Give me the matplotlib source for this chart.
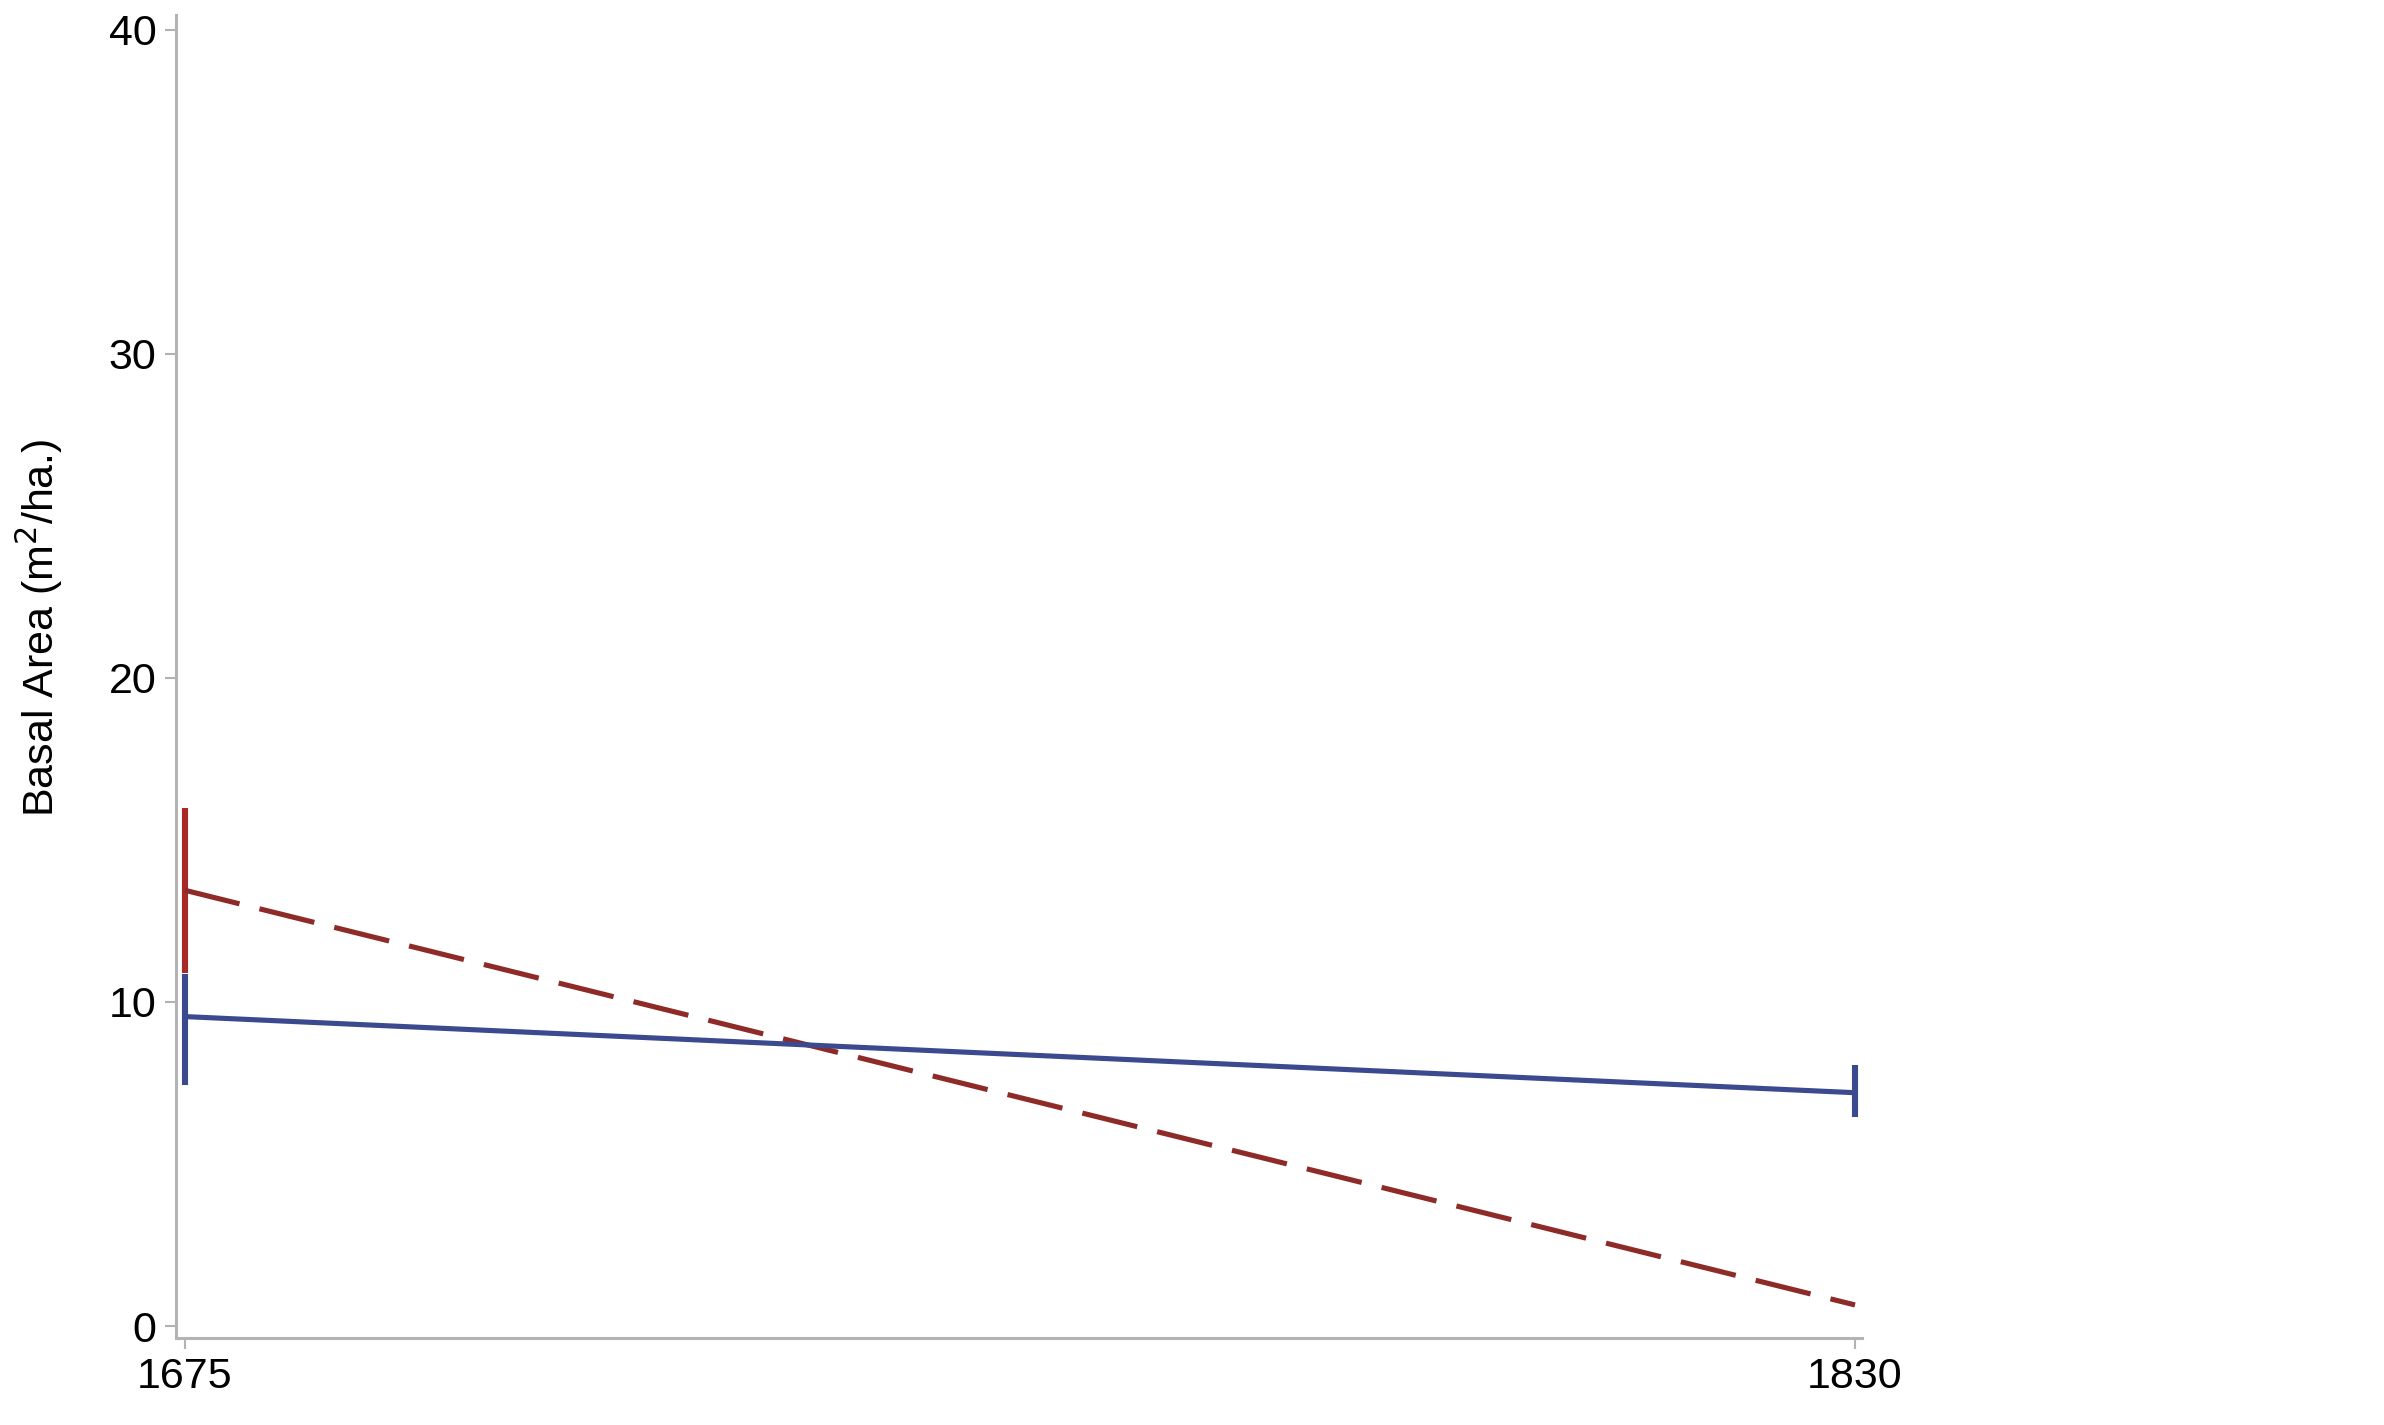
import matplotlib.pyplot as plt
import numpy as np

plt.rcParams['font.family'] = ['Liberation Sans', 'DejaVu Sans']

# data
years = [1675, 1830]
blue_mean = [9.55, 7.2]
blue_low = [7.45, 6.45]
blue_high = [10.85, 8.05]
red_mean = [13.45, 0.65]
red_low = [10.9, 0.65]
red_high = [16.0, 0.65]

blue = '#3b4a8e'
red = '#8e2a28'
red_bar = '#a82a26'
grey = '#b3b3b3'

fig = plt.figure(figsize=(23.84, 14.25), dpi=100)
ax = fig.add_axes([176/2384, 1-1338/1425, (1862-176)/2384, (1338-15)/1425])

# error bars first (red then blue on top)
ax.vlines(years[0], red_low[0], red_high[0], color=red_bar, lw=4.4, zorder=2)
ax.vlines(years, blue_low, blue_high, color=blue, lw=4.4, zorder=3)

ax.plot(years, red_mean, color=red, lw=3.7, dashes=(11.0, 4.0), zorder=2)
ax.plot(years, blue_mean, color=blue, lw=3.7, zorder=3)

ax.set_xlim(1674.2, 1830.65)
ax.set_ylim(-0.37, 40.46)
ax.set_xticks(years)
ax.set_yticks([0, 10, 20, 30, 40])

for s in ['top', 'right']:
    ax.spines[s].set_visible(False)
for s in ['left', 'bottom']:
    ax.spines[s].set_color(grey)
    ax.spines[s].set_linewidth(2.2)
ax.tick_params(axis='both', colors=grey, labelcolor='black', length=8, width=1.5,
               labelsize=31, pad=6)

ax.set_ylabel('Basal Area (m$^2$/ha.)', fontsize=31)
ax.yaxis.set_label_coords(-0.066, 0.537)

fig.savefig('out.png', dpi=100)
